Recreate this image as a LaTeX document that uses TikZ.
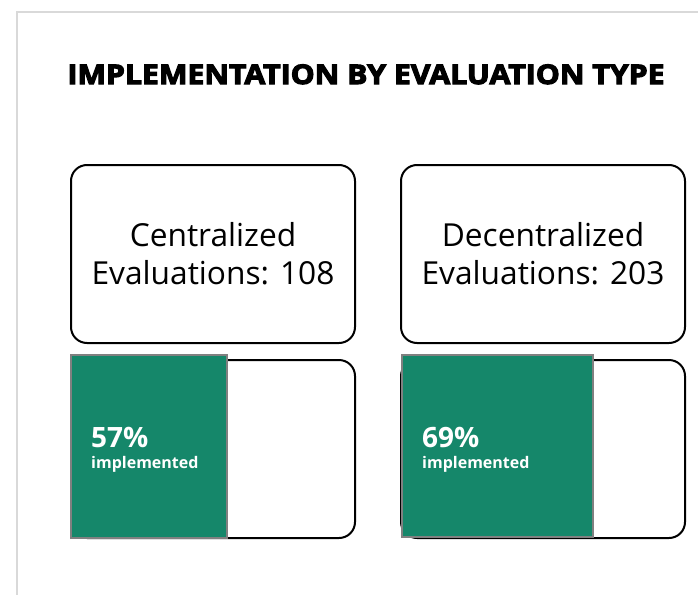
\documentclass[tikz,border=0pt]{standalone}
\usepackage{fontspec}
\setmainfont{Open Sans}
\newfontfamily\titlefont{Open Sans}[BoldFeatures={FakeBold=4.2,FakeStretch=1.12}]
\usepackage{xcolor}
\usetikzlibrary{positioning}
\definecolor{implgreen}{RGB}{21,135,106}
\definecolor{framegray}{RGB}{217,217,217}
\definecolor{bargray}{RGB}{128,128,128}

\begin{document}
\begin{tikzpicture}[x=1pt,y=-1pt,
	evalbox/.style={rectangle, rounded corners=16pt, draw=black, line width=2pt, fill=white, minimum width=284pt, minimum height=178pt, align=center, font=\fontsize{31.7}{38}\selectfont},
	implbar/.style={rectangle, draw=bargray, line width=1.5pt, fill=implgreen, inner sep=0pt},
	pcttext/.style={anchor=base west, inner sep=0pt, text=white, font=\fontsize{28}{30}\selectfont\bfseries},
	impltext/.style={anchor=base west, inner sep=0pt, text=white, font=\fontsize{16}{18}\selectfont\bfseries}]
	\useasboundingbox (0,0) rectangle (698,594);
	\draw[framegray, line width=2pt] (17,600) -- (17,12) -- (710,12);
	\node[anchor=base, inner sep=0pt, font=\fontsize{27}{30}\selectfont\titlefont\bfseries] (title) at (366,84) {IMPLEMENTATION BY EVALUATION TYPE};
	% top boxes
	\node[evalbox] (cent) at (213,254) {Centralized\\Evaluations: 108};
	\node[evalbox] (decent) at (543,254) {Decentralized\\Evaluations: 203};
	% bottom boxes with bars
	\node[evalbox] (centbar) at (213,449) {};
	\node[evalbox] (decentbar) at (543,449) {};
	\node[implbar, minimum width=156pt, minimum height=183pt] (cgreen) at (149,446.5) {};
	\node[implbar, minimum width=191pt, minimum height=182pt] (dgreen) at (497.5,446) {};
	\node[pcttext] (cpct) at (91,447) {57\%};
	\node[impltext] (cimpl) at (91,468) {implemented};
	\node[pcttext] (dpct) at (422,447) {69\%};
	\node[impltext] (dimpl) at (422,468) {implemented};
\end{tikzpicture}
\end{document}
